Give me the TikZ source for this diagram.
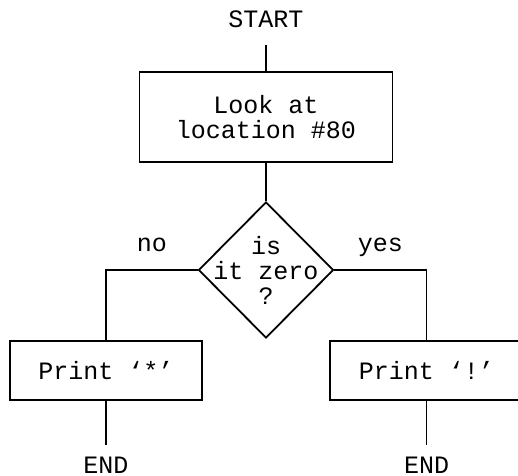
\documentclass[tikz,border=0pt]{standalone}
\usepackage{fontspec}
\setmonofont{Liberation Mono}
\usetikzlibrary{shapes.geometric}

\begin{document}
\begin{tikzpicture}[
  x=1pt, y=-1pt,
  font=\ttfamily\fontsize{25pt}{25pt}\selectfont,
  stepbox/.style = {rectangle, draw, line width=1.8pt, inner sep=0pt,
                    align=center},
  decide/.style  = {diamond, draw, line width=1.8pt, inner sep=0pt,
                    minimum width=135pt, minimum height=136pt},
  term/.style    = {inner sep=0pt, outer ysep=18pt, text height=15pt,
                    text depth=0pt},
  link/.style    = {draw, line width=1.8pt},
  branch/.style  = {inner sep=0pt, text height=13pt, text depth=0pt,
                    above=18pt},
]
\useasboundingbox (0,0) rectangle (518,475);
\node[term] (start) at (266,19.5) {START};
\node[stepbox, minimum width=253pt, minimum height=90pt] (look) at (266,117)
  {Look at\\location \#80};
\node[decide, label={[align=center]center:{is\\it zero\\?}}] (test)
  at (266,270) {};
\node[stepbox, minimum width=192pt, minimum height=59pt] (pstar) at (106,370.5)
  {Print ‘*’};
\node[stepbox, minimum width=193pt, minimum height=59pt] (pbang) at (426.5,370.5)
  {Print ‘!’};
\node[term, outer ysep=13pt] (endl) at (106,465.5) {END};
\node[term, outer ysep=13pt] (endr) at (426.5,465.5) {END};
\draw[link] (start) -- (look);
\draw[link] (look) -- (test);
\draw[link] (test.west) -| node[branch, pos=0.25]{no} (pstar.north);
\draw[link] (test.east) -| node[branch, pos=0.25]{yes} (pbang.north);
\draw[link] (pstar) -- (endl);
\draw[link] (pbang) -- (endr);
\end{tikzpicture}
\end{document}
